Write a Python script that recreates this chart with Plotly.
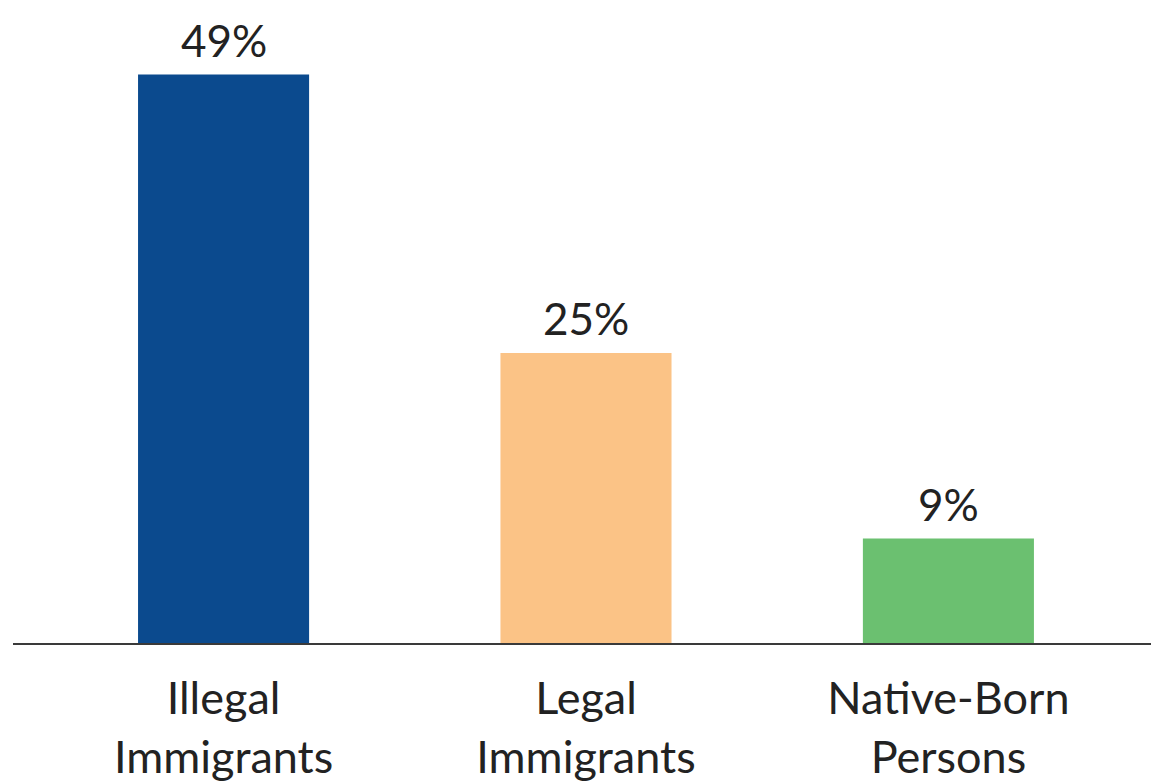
import plotly.graph_objects as go

# Share of each group (percent)
categories = ["Illegal<br>Immigrants", "Legal<br>Immigrants", "Native-Born<br>Persons"]
values = [49, 25, 9]
value_labels = ["49%", "25%", "9%"]
bar_colors = ["#0b4a8e", "#fbc386", "#6bc070"]

FONT = "Lato, 'Open Sans', sans-serif"
TEXT_COLOR = "#222222"

fig = go.Figure(
    go.Bar(
        x=categories,
        y=values,
        marker=dict(color=bar_colors, line=dict(width=0)),
        width=0.472,
        hoverinfo="skip",
    )
)

# Value labels above each bar
for cat, val, lab in zip(categories, values, value_labels):
    fig.add_annotation(
        x=cat, y=val, text=lab, showarrow=False,
        xanchor="center", yanchor="bottom", yshift=7,
        font=dict(family=FONT, size=44, color=TEXT_COLOR),
    )

fig.update_layout(
    width=1151, height=784,
    margin=dict(l=13, r=0, t=5, b=141),
    paper_bgcolor="white", plot_bgcolor="white",
    showlegend=False,
    font=dict(family=FONT, color=TEXT_COLOR),
)
fig.update_xaxes(
    range=[-0.581, 2.559],
    automargin=False,
    showline=True, linecolor="#3a3a3a", linewidth=2,
    showgrid=False, zeroline=False,
    ticks="", ticklabelstandoff=15,
    tickfont=dict(family=FONT, size=45, color=TEXT_COLOR),
)
fig.update_yaxes(
    range=[0, 55], visible=False, showgrid=False, zeroline=False,
    automargin=False,
)

fig.write_html("out.html")
